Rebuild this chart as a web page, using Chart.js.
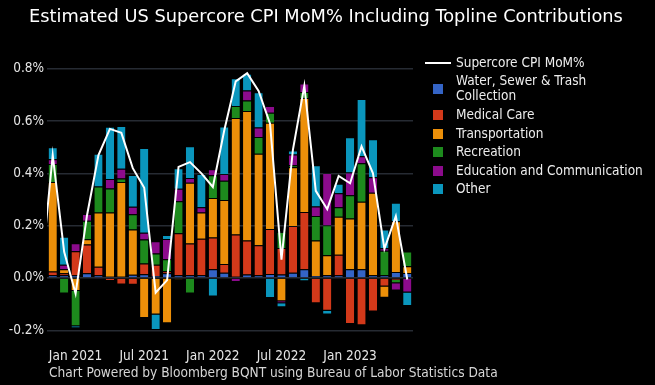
<!DOCTYPE html>
<html>
<head>
<meta charset="utf-8">
<script src="https://cdn.jsdelivr.net/npm/chart.js@4.4.1/dist/chart.umd.min.js"></script>
<style>
html,body{margin:0;padding:0;background:#000;width:655px;height:385px;overflow:hidden;}
body{position:relative;font-family:'DejaVu Sans Condensed','DejaVu Sans',sans-serif;}
#c{position:absolute;left:0;top:0;}
.t{position:absolute;white-space:pre;line-height:1.164;}
#title{left:29px;font-family:'DejaVu Sans',sans-serif;font-size:17.8px;color:#ffffff;}
#footer{left:49px;font-size:13.6px;color:#d6d6d6;}
.lg{position:absolute;white-space:pre;font-size:13.5px;line-height:15.6px;color:#ededed;}
.sw{position:absolute;width:10px;height:10px;}
.ln{position:absolute;width:26px;height:2px;background:#fff;}
</style>
</head>
<body>
<canvas id="c" width="655" height="385"></canvas>
<div id="title" class="t">Estimated US Supercore CPI MoM% Including Topline Contributions</div>
<div id="footer" class="t">Chart Powered by Bloomberg BQNT using Bureau of Labor Statistics Data</div>
<div id="legend"></div>
<script>
// ---- data (percent, month-over-month contributions) ----
const months = ['Nov 2020','Dec 2020','Jan 2021','Feb 2021','Mar 2021','Apr 2021','May 2021','Jun 2021','Jul 2021','Aug 2021','Sep 2021','Oct 2021','Nov 2021','Dec 2021','Jan 2022','Feb 2022','Mar 2022','Apr 2022','May 2022','Jun 2022','Jul 2022','Aug 2022','Sep 2022','Oct 2022','Nov 2022','Dec 2022','Jan 2023','Feb 2023','Mar 2023','Apr 2023','May 2023','Jun 2023'];
const tickMonths = ['Jan 2021','Jul 2021','Jan 2022','Jul 2022','Jan 2023'];
const yTickValues = [-0.2, 0, 0.2, 0.4, 0.6, 0.8];

const water      = [0.010,0.010,0.010,0.018,0.010,0.005,0.005,0.012,0.014,0.008,0.018,0.010,0.010,0.010,0.033,0.020,0.005,0.013,0.010,0.015,0.013,0.020,0.033,0.008,0.010,0.010,0.033,0.033,0.010,0.010,0.023,0.019];
const medical    = [0.015,0.008,0.092,0.110,0.033,-0.012,-0.025,-0.026,0.041,0.043,0.008,0.161,0.122,0.140,0.122,0.033,0.161,0.130,0.115,0.172,0.102,0.179,0.219,-0.097,-0.125,0.079,-0.176,-0.181,-0.128,-0.033,-0.008,0];
const transport  = [0.342,0.015,-0.050,0.020,0.207,0.245,0.362,0.173,-0.153,-0.140,-0.173,-0.006,0.232,0.100,0.151,0.245,0.446,0.495,0.350,0.407,-0.089,0.224,0.436,0.135,0.077,0.145,0.194,0.258,0.316,-0.043,0.194,0.026];
const recreation = [0.069,-0.059,-0.135,0.071,0.100,0.092,0.013,0.059,0.092,0.043,0.046,0.122,-0.059,0,0.087,0.074,0.046,0.041,0.064,0.038,0.061,0.008,0.023,0.094,0.115,0.036,0.089,0.148,0,0.094,-0.012,0.056];
const education  = [0.018,0.018,0.031,0.026,-0.005,0.036,0.038,0.028,0.026,0.046,0.077,0.048,0.018,0.020,0.023,0.026,-0.015,0.038,0.036,0.026,-0.008,0.041,0.033,0.036,0.199,0.054,0.087,0.026,0.059,0.010,-0.028,-0.056];
const other      = [0.046,0.107,-0.006,0,0.125,0.200,0.163,0.122,0.324,-0.059,0.015,0.079,0.122,0.128,-0.071,0.181,0.106,0.064,0.135,-0.077,-0.015,0.015,-0.013,0.158,-0.015,0.036,0.135,0.219,0.145,0.071,0.071,-0.051];
// line series starts one month earlier (Oct 2020), partly outside the plotted range
const supercoreMonths = ['Oct 2020'].concat(months);
const supercore  = [0.02,0.47,0.10,-0.06,0.24,0.47,0.57,0.555,0.42,0.345,-0.056,-0.008,0.425,0.443,0.40,0.348,0.565,0.752,0.783,0.715,0.59,0.07,0.49,0.735,0.333,0.263,0.39,0.362,0.503,0.40,0.111,0.236,-0.006];

const lineName = 'Supercore CPI MoM%';
const seriesNames = ['Water, Sewer & Trash Collection','Medical Care','Transportation','Recreation','Education and Communication','Other'];
const legendLabels = ['Water, Sewer & Trash\nCollection','Medical Care','Transportation','Recreation','Education and Communication','Other'];
const seriesColors = ['#3464c6','#d3391a','#ec8f09','#1d8a1d','#8c0b8c','#0a96bd'];

// ---- chart ----
const FONT = "'DejaVu Sans Condensed','DejaVu Sans',sans-serif";
Chart.defaults.font.family = FONT;

const comps = [water, medical, transport, recreation, education, other];
const idx = months.map((_, i) => i);
const tickIdx = tickMonths.map(m => months.indexOf(m));
const lineData = supercore.map((v, i) => ({x: months.indexOf(supercoreMonths[i]) === -1 ? -1 : months.indexOf(supercoreMonths[i]), y: v}));

const datasets = comps.map((arr, k) => ({
  type: 'bar', label: seriesNames[k], data: arr,
  backgroundColor: seriesColors[k],
  borderColor: 'rgba(0,0,0,0.45)',
  borderWidth: {top: 1, bottom: 1, left: 0, right: 0},
  borderSkipped: 'start',
  barPercentage: 0.72, categoryPercentage: 1.0, order: 1
}));
datasets.push({
  type: 'line', label: lineName, data: lineData, stack: 'line',
  borderColor: '#ffffff', borderWidth: 2, pointRadius: 0, tension: 0, order: 0
});

new Chart(document.getElementById('c'), {
  type: 'bar',
  data: {labels: idx, datasets},
  options: {
    responsive: false, animation: false,
    layout: {padding: {top: 58.3, right: 242, bottom: 0, left: 0}},
    plugins: {legend: {display: false}, tooltip: {enabled: false}, title: {display: false}},
    scales: {
      x: {
        type: 'linear', min: -0.5, max: 31.5, offset: false, stacked: true,
        grid: {display: false, offset: false}, border: {display: false},
        afterBuildTicks: s => { s.ticks = tickIdx.map(v => ({value: v})); },
        afterFit: s => { s.height = 49.5; },
        ticks: {color: '#e6e6e6', font: {size: 13.5}, padding: 5, maxRotation: 0, autoSkip: false,
                callback: v => tickMonths[tickIdx.indexOf(v)]}
      },
      y: {
        min: -0.22, max: 0.84, stacked: true,
        grid: {color: '#262b33', lineWidth: 1.5, drawTicks: false}, border: {display: false},
        afterBuildTicks: s => { s.ticks = yTickValues.map(v => ({value: v})); },
        afterFit: s => { s.width = 47; },
        ticks: {color: '#e6e6e6', font: {size: 13.5}, padding: 3, callback: v => v.toFixed(1) + '%'}
      }
    }
  }
});

// ---- text placement (title/footer/legend) ----
function placeBaseline(el, baseline, size) { el.style.top = (baseline - 0.928 * size) + 'px'; }
placeBaseline(document.getElementById('title'), 22.7, 17.8);
placeBaseline(document.getElementById('footer'), 377.7, 13.6);

const lg = document.getElementById('legend');
const LS = 13.5, LH = 15.6, textX = 456, boxX = 433;
const firstOff = (LH - 1.164 * LS) / 2 + 0.928 * LS;
function addText(txt, baseline) {
  const d = document.createElement('div');
  d.className = 'lg'; d.textContent = txt;
  d.style.left = textX + 'px'; d.style.top = (baseline - firstOff) + 'px';
  lg.appendChild(d);
}
let base = 67.2;
addText(lineName, base);
const ln = document.createElement('div'); ln.className = 'ln';
ln.style.left = '425px'; ln.style.top = (base - 4.5 - 1) + 'px'; lg.appendChild(ln);
base += 18;
legendLabels.forEach((lab, k) => {
  const nLines = lab.split('\n').length;
  addText(lab, base);
  const center = base - 4.5 + (nLines - 1) * LH / 2;
  const sw = document.createElement('div'); sw.className = 'sw';
  sw.style.background = seriesColors[k];
  sw.style.left = boxX + 'px'; sw.style.top = (center - 5) + 'px';
  lg.appendChild(sw);
  base += (nLines - 1) * LH + (k === 0 ? 19 : 18.4);
});
</script>
</body>
</html>
